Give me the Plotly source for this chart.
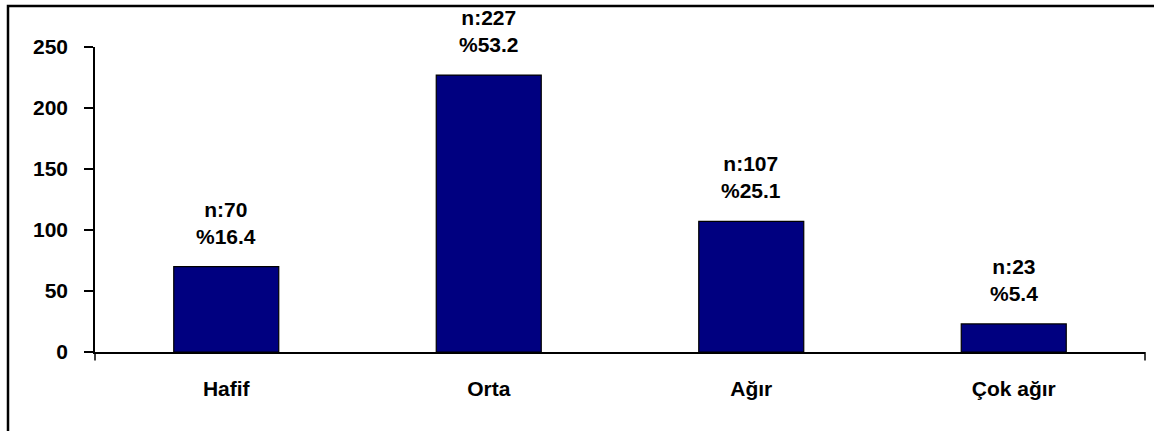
import plotly.graph_objects as go

# Severity categories and patient counts
categories = ["Hafif", "Orta", "Ağır", "Çok ağır"]
counts = [70, 227, 107, 23]
percents = [16.4, 53.2, 25.1, 5.4]
y_ticks = [0, 50, 100, 150, 200, 250]

W, H = 1154, 431
L, R, T, B = 95, 9, 47, 78.5
plot_w = W - L - R
plot_h = H - T - B

FONT = "Liberation Sans, Arial, sans-serif"
LABEL_SIZE = 21

fig = go.Figure()
fig.add_trace(go.Bar(
    x=categories,
    y=counts,
    width=0.4,
    marker=dict(color="#000080", line=dict(color="#000000", width=1.2)),
    hoverinfo="skip",
))

# Two-line value labels above each bar
for cat, n, p in zip(categories, counts, percents):
    fig.add_annotation(
        x=cat, y=n, xref="x", yref="y",
        text=f"n:{n}<br>%{p}",
        showarrow=False,
        yanchor="bottom",
        yshift=17,
        font=dict(family=FONT, size=LABEL_SIZE, color="#000000", weight="bold"),
    )


def px_x(v):
    return (v - L) / plot_w


def px_y(v):
    return (H - B - v) / plot_h


# Outer chart frame (left and top edges fall inside the page)
fig.add_shape(
    type="rect", xref="paper", yref="paper",
    x0=px_x(8), x1=px_x(1170), y0=px_y(6), y1=px_y(450),
    line=dict(color="#000000", width=2.5),
    fillcolor="rgba(0,0,0,0)",
    layer="below",
)

# Tick marks only at the two ends of the category axis
for xe in (0, 1):
    fig.add_shape(
        type="line", xref="paper", yref="paper",
        x0=xe, x1=xe, y0=0, y1=px_y(361),
        line=dict(color="#000000", width=1.5),
    )

fig.update_layout(
    width=W, height=H,
    margin=dict(l=L, r=R, t=T, b=B, pad=0),
    paper_bgcolor="#ffffff",
    plot_bgcolor="#ffffff",
    showlegend=False,
    font=dict(family=FONT, size=LABEL_SIZE, color="#000000", weight="bold"),
    xaxis=dict(
        type="category",
        range=[-0.5, 3.5],
        showline=True, linecolor="#000000", linewidth=1.5,
        ticks="",
        showgrid=False, zeroline=False,
        ticklabelstandoff=17,
        tickfont=dict(family=FONT, size=LABEL_SIZE, color="#000000", weight="bold"),
    ),
    yaxis=dict(
        range=[0, 250],
        tickvals=y_ticks,
        showline=True, linecolor="#000000", linewidth=1.5,
        ticks="outside", ticklen=9, tickcolor="#000000", tickwidth=1.5,
        showgrid=False, zeroline=False,
        ticklabelstandoff=12,
        tickfont=dict(family=FONT, size=LABEL_SIZE, color="#000000", weight="bold"),
    ),
)

fig.write_html("out.html")
